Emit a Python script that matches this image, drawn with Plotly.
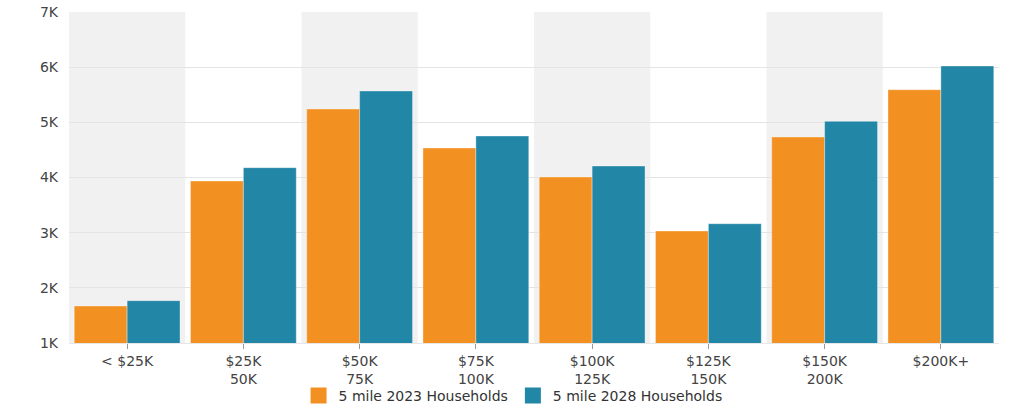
import plotly.graph_objects as go

categories = ["< $25K", "$25K<br>50K", "$50K<br>75K", "$75K<br>100K", "$100K<br>125K",
              "$125K<br>150K", "$150K<br>200K", "$200K+"]
hh_2023 = [1670, 3936, 5241, 4534, 4009, 3030, 4734, 5591]
hh_2028 = [1767, 4178, 5568, 4752, 4208, 3162, 5018, 6021]
series_names = ["5 mile 2023 Households", "5 mile 2028 Households"]
y_tickvals = [1000, 2000, 3000, 4000, 5000, 6000, 7000]
y_ticktext = ["1K", "2K", "3K", "4K", "5K", "6K", "7K"]

orange = "#f39022"
teal = "#2286a6"
FONT = "DejaVu Sans, Liberation Sans, Arial, sans-serif"

fig = go.Figure()
for vals, name, col in [(hh_2023, series_names[0], orange), (hh_2028, series_names[1], teal)]:
    fig.add_trace(go.Bar(x=categories, y=vals, name=name, showlegend=False,
                         marker=dict(color=col, line=dict(color="rgba(255,255,255,0.35)", width=1))))
# legend-only entries with larger square swatches
for name, col in [(series_names[0], orange), (series_names[1], teal)]:
    fig.add_trace(go.Scatter(x=[None], y=[None], mode="markers", name=name,
                             marker=dict(symbol="square", size=16, color=col)))

shapes = []
for i in range(0, len(categories), 2):
    shapes.append(dict(type="rect", xref="x", yref="paper", x0=i - 0.5, x1=i + 0.5,
                       y0=0, y1=1, fillcolor="#f1f1f1", line=dict(width=0), layer="below"))

fig.update_layout(
    width=1020, height=409,
    margin=dict(l=69, r=21, t=12, b=66),
    paper_bgcolor="white", plot_bgcolor="white",
    font=dict(family=FONT, size=14, color="#444"),
    barmode="group", bargap=0.09, bargroupgap=0,
    shapes=shapes,
    showlegend=True,
    legend=dict(orientation="h", xref="container", yref="container",
                x=0.503, xanchor="center", y=1 - 396 / 409, yanchor="middle",
                font=dict(family=FONT, size=14, color="#333"), itemwidth=30,
                traceorder="normal", bgcolor="rgba(0,0,0,0)"),
)
fig.update_xaxes(range=[-0.5, len(categories) - 0.5], showgrid=False, ticks="outside",
                 ticklen=5, tickcolor="#999", tickfont=dict(family=FONT, size=14, color="#444"),
                 showline=True, linecolor="#e6e6e6", linewidth=1, automargin=False)
fig.update_yaxes(range=[1000, 7000], tickvals=y_tickvals, ticktext=y_ticktext,
                 showgrid=True, gridcolor="#e4e4e4", gridwidth=1, zeroline=False,
                 tickfont=dict(family=FONT, size=14, color="#444"), ticks="",
                 ticklabelstandoff=10, automargin=False)

fig.write_html("out.html")
